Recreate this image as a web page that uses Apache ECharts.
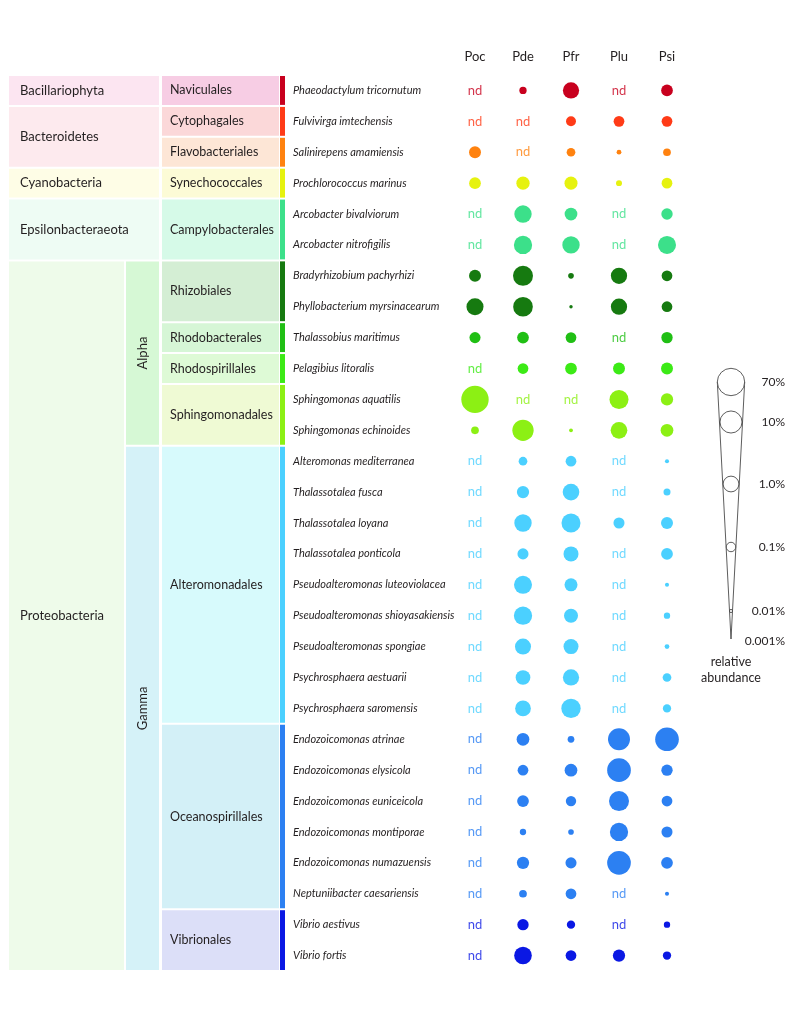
<!DOCTYPE html>
<html>
<head>
<meta charset="utf-8">
<script src="https://cdn.jsdelivr.net/npm/echarts@6/dist/echarts.min.js"></script>
<style>
html,body{margin:0;padding:0;background:#fff;}
#chart{width:794px;height:1024px;}
</style>
</head>
<body>
<div id="chart"></div>
<script>
// ---------------- DATA ----------------
const samples = ['Poc', 'Pde', 'Pfr', 'Plu', 'Psi'];

const species = [
  'Phaeodactylum tricornutum', 'Fulvivirga imtechensis', 'Salinirepens amamiensis',
  'Prochlorococcus marinus', 'Arcobacter bivalviorum', 'Arcobacter nitrofigilis',
  'Bradyrhizobium pachyrhizi', 'Phyllobacterium myrsinacearum', 'Thalassobius maritimus',
  'Pelagibius litoralis', 'Sphingomonas aquatilis', 'Sphingomonas echinoides',
  'Alteromonas mediterranea', 'Thalassotalea fusca', 'Thalassotalea loyana',
  'Thalassotalea ponticola', 'Pseudoalteromonas luteoviolacea', 'Pseudoalteromonas shioyasakiensis',
  'Pseudoalteromonas spongiae', 'Psychrosphaera aestuarii', 'Psychrosphaera saromensis',
  'Endozoicomonas atrinae', 'Endozoicomonas elysicola', 'Endozoicomonas euniceicola',
  'Endozoicomonas montiporae', 'Endozoicomonas numazuensis', 'Neptuniibacter caesariensis',
  'Vibrio aestivus', 'Vibrio fortis'
];

// relative abundance (%) per sample; null = not detected ("nd")
const Poc = [null, null, 0.25, 0.23, null, null, 0.25, 1.6, 0.18, null, 70, 0.053,
  null, null, null, null, null, null, null, null, null,
  null, null, null, null, null, null, null, null];
const Pde = [0.046, null, null, 0.41, 1.8, 2.5, 4.7, 4.2, 0.23, 0.16, null, 7.6,
  0.076, 0.28, 1.8, 0.18, 2.3, 2.5, 1.1, 0.68, 0.98,
  0.33, 0.16, 0.23, 0.032, 0.28, 0.053, 0.2, 2.0];
const Pfr = [1.2, 0.12, 0.076, 0.37, 0.33, 1.8, 0.025, 0.011, 0.16, 0.23, null, 0.013,
  0.16, 1.4, 3.3, 0.76, 0.37, 0.53, 0.76, 1.2, 3.7,
  0.037, 0.33, 0.14, 0.025, 0.18, 0.16, 0.066, 0.16];
const Plu = [null, 0.16, 0.018, 0.028, null, null, 1.2, 1.2, null, 0.25, 3.3, 1.4,
  null, null, 0.18, null, null, null, null, null, null,
  9.8, 18, 4.7, 2.5, 18, null, null, 0.28];
const Psi = [0.23, 0.16, 0.053, 0.16, 0.2, 2.3, 0.16, 0.16, 0.2, 0.25, 0.28, 0.33,
  0.014, 0.041, 0.25, 0.23, 0.014, 0.032, 0.018, 0.076, 0.066,
  18, 0.2, 0.16, 0.18, 0.23, 0.014, 0.032, 0.066];
const sampleValues = [Poc, Pde, Pfr, Plu, Psi];

// taxonomy groups (row counts, in species order)
const phyla = ['Bacillariophyta', 'Bacteroidetes', 'Cyanobacteria', 'Epsilonbacteraeota', 'Proteobacteria'];
const phylumRows = [1, 2, 1, 2, 23];
const classes = ['Alpha', 'Gamma'];
const classRows = [6, 17];
const classStartRow = 6;
const orders = ['Naviculales', 'Cytophagales', 'Flavobacteriales', 'Synechococcales', 'Campylobacterales',
  'Rhizobiales', 'Rhodobacterales', 'Rhodospirillales', 'Sphingomonadales',
  'Alteromonadales', 'Oceanospirillales', 'Vibrionales'];
const orderRows = [1, 1, 1, 1, 2, 2, 1, 1, 2, 9, 6, 2];

// legend keys
const legendValues = [70, 10, 1, 0.1, 0.01, 0.001];
const legendLabels = ['70%', '10%', '1.0%', '0.1%', '0.01%', '0.001%'];

// ---------------- STYLE ----------------
const orderColors = ['#C8001E', '#FF3B17', '#FF820F', '#E6F20F', '#3CE08A', '#167A10', '#20BF14',
  '#3CEA16', '#8CF014', '#4BD0FF', '#2C80F2', '#0A18E4'];
const orderBg = ['#F7CDE4', '#FBD8D9', '#FDE6D6', '#FCFBD6', '#D6FAE8', '#D4EED4', '#D6F6D6',
  '#DEFAD6', '#EFFAD4', '#D7FAFC', '#D3F0F7', '#DCDFF8'];
const phylumBg = ['#FCE5F1', '#FDEAEE', '#FEFDE6', '#EEFCF4', '#EEFBEA'];
const classBg = ['#D6F8D5', '#D5F2F8'];
const FONT = 'Lato, "Open Sans", sans-serif';
const TXT = '#231F20';

const L = { // table layout in pixels
  phyX0: 9, phyX1: 159, protX1: 124, clsX0: 126, clsX1: 159,
  ordX0: 162, ordX1: 279, barX0: 280, barX1: 285,
  top: 75, height: 896
};

function sizeOf(v) { // diameter from log abundance
  if (v == null || v <= 0) return 0;
  return Math.max(0, 6.3 * (Math.log10(v) + 2.5));
}

// per-row order color
const rowColor = [];
orders.forEach((o, i) => { for (let k = 0; k < orderRows[i]; k++) rowColor.push(orderColors[i]); });

// ---------------- TABLE BLOCKS ----------------
const blocks = [];
let r = 0;
phyla.forEach((p, i) => {
  const isProt = p === 'Proteobacteria';
  blocks.push({ x0: L.phyX0, x1: isProt ? L.protX1 : L.phyX1, r0: r, r1: r + phylumRows[i] - 1,
    fill: phylumBg[i], text: p, tx: 20, align: 'left', size: 13 });
  r += phylumRows[i];
});
r = classStartRow;
classes.forEach((c, i) => {
  blocks.push({ x0: L.clsX0, x1: L.clsX1, r0: r, r1: r + classRows[i] - 1,
    fill: classBg[i], text: c, tx: (L.clsX0 + L.clsX1) / 2, align: 'center', size: 13, vertical: true });
  r += classRows[i];
});
r = 0;
orders.forEach((o, i) => {
  blocks.push({ x0: L.ordX0, x1: L.ordX1, r0: r, r1: r + orderRows[i] - 1,
    fill: orderBg[i], text: o, tx: 170, align: 'left', size: 12.5 });
  blocks.push({ x0: L.barX0, x1: L.barX1, r0: r, r1: r + orderRows[i] - 1,
    fill: orderColors[i], text: '' });
  r += orderRows[i];
});

// ---------------- SERIES DATA ----------------
const bubbleData = [];
const ndData = [];
sampleValues.forEach((arr, c) => {
  arr.forEach((v, row) => {
    if (v == null) {
      ndData.push({ value: [c, row], label: { color: rowColor[row] } });
    } else {
      bubbleData.push({ value: [c, row, v], itemStyle: { color: rowColor[row] } });
    }
  });
});

// ---------------- CHART ----------------
const chart = echarts.init(document.getElementById('chart'), null, { renderer: 'canvas' });

const legendX = 731;
const legendY = [382, 422, 484, 547, 611, 641];

const graphic = [];
// cone outline
const rTop = sizeOf(legendValues[0]) / 2;
graphic.push({ type: 'polyline', z: 1,
  shape: { points: [[legendX - rTop, legendY[0]], [legendX, legendY[5] - 2], [legendX + rTop, legendY[0]]] },
  style: { stroke: '#333', lineWidth: 0.8, fill: null } });
legendValues.forEach((v, i) => {
  const d = sizeOf(v);
  if (d > 0) {
    graphic.push({ type: 'circle', z: 2, shape: { cx: legendX, cy: legendY[i], r: d / 2 },
      style: { fill: '#fff', stroke: '#333', lineWidth: 0.8 } });
  }
  graphic.push({ type: 'text', z: 3, x: 785, y: legendY[i],
    style: { text: legendLabels[i], textAlign: 'right', textVerticalAlign: 'middle',
      font: '12px ' + FONT, fill: TXT } });
});
graphic.push({ type: 'text', x: legendX, y: 670,
  style: { text: 'relative\nabundance', textAlign: 'center', textVerticalAlign: 'middle',
    font: '12.5px ' + FONT, fill: TXT, lineHeight: 16 } });

const option = {
  animation: false,
  backgroundColor: '#fff',
  grid: [
    { left: 451, width: 240, top: L.top, height: L.height, containLabel: false },
    { left: 0, width: 300, top: L.top, height: L.height, containLabel: false }
  ],
  xAxis: [
    { type: 'category', gridIndex: 0, data: samples, position: 'top',
      axisLine: { show: false }, axisTick: { show: false }, splitLine: { show: false },
      axisLabel: { color: TXT, fontFamily: FONT, fontSize: 13, margin: 12 } },
    { type: 'value', gridIndex: 1, min: 0, max: 300, show: false }
  ],
  yAxis: [
    { type: 'category', gridIndex: 0, data: species, inverse: true,
      axisLine: { show: false }, axisTick: { show: false }, splitLine: { show: false },
      axisLabel: { color: TXT, fontFamily: FONT, fontSize: 11, fontStyle: 'italic',
        align: 'left', margin: 158 } },
    { type: 'category', gridIndex: 1, data: species, inverse: true, show: false }
  ],
  graphic: graphic,
  series: [
    {
      type: 'custom', xAxisIndex: 1, yAxisIndex: 1,
      data: blocks.map((b, i) => [b.x0, b.r0, b.x1, b.r1]),
      encode: { x: [0, 2], y: [1, 3] },
      renderItem: function (params, api) {
        const b = blocks[params.dataIndex];
        const band = api.size([0, 1])[1];
        const yTop = api.coord([0, api.value(1)])[1] - band / 2;
        const yBot = api.coord([0, api.value(3)])[1] + band / 2;
        const xL = api.coord([api.value(0), 0])[0];
        const xR = api.coord([api.value(2), 0])[0];
        const children = [{
          type: 'rect',
          shape: { x: xL, y: yTop + 1, width: xR - xL, height: yBot - yTop - 2 },
          style: { fill: b.fill }
        }];
        if (b.text) {
          children.push({
            type: 'text',
            x: b.vertical ? (xL + xR) / 2 : api.coord([b.tx, 0])[0],
            y: (yTop + yBot) / 2,
            rotation: b.vertical ? Math.PI / 2 : 0,
            style: { text: b.text, textAlign: b.vertical ? 'center' : b.align,
              textVerticalAlign: 'middle', font: b.size + 'px ' + FONT, fill: TXT }
          });
        }
        return { type: 'group', children: children };
      },
      silent: true
    },
    {
      type: 'scatter', xAxisIndex: 0, yAxisIndex: 0,
      data: bubbleData,
      symbolSize: function (val) { return sizeOf(val[2]); },
      itemStyle: { opacity: 1 },
      silent: true
    },
    {
      type: 'scatter', xAxisIndex: 0, yAxisIndex: 0,
      data: ndData, symbolSize: 0,
      label: { show: true, position: 'inside', formatter: 'nd', fontFamily: FONT, fontSize: 13 },
      silent: true
    }
  ]
};
chart.setOption(option);
</script>
</body>
</html>
